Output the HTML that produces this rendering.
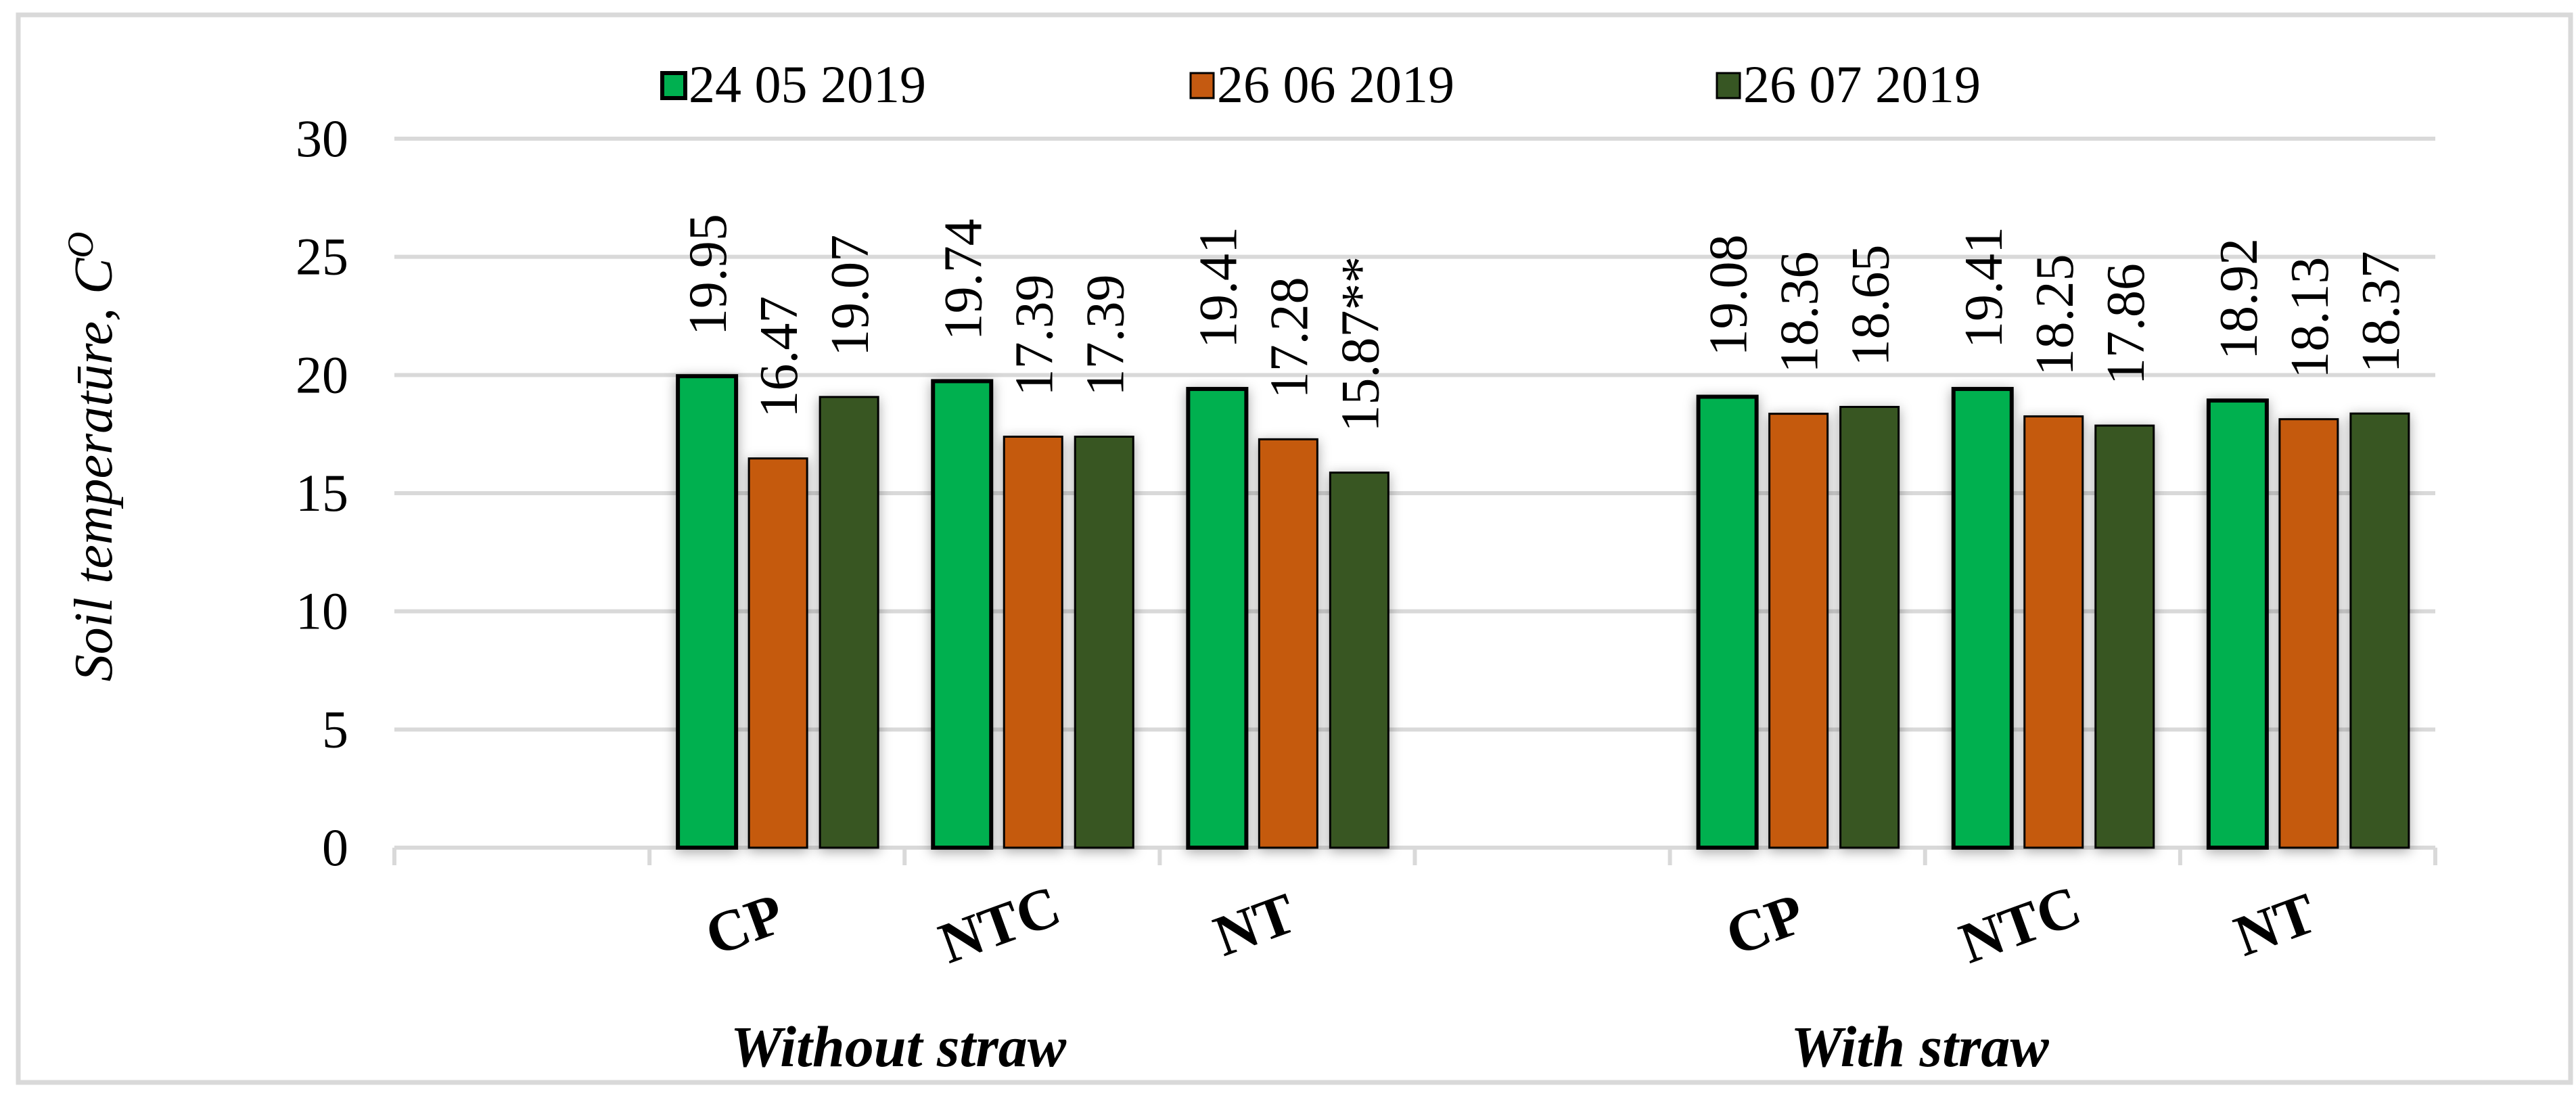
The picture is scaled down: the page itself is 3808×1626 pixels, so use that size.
<!DOCTYPE html>
<html><head><meta charset="utf-8"><style>
html,body{margin:0;padding:0;background:#fff;}
svg, svg text{font-family:"Liberation Serif","Times New Roman","DejaVu Serif","Noto Serif CJK SC",serif;}
</style></head><body>
<svg id="chart" width="3808" height="1621" viewBox="0 0 3808 1621" xmlns="http://www.w3.org/2000/svg">
<defs>
<filter id="sh" x="-30%" y="-10%" width="160%" height="120%"><feDropShadow dx="0" dy="4" stdDeviation="9" flood-color="#000" flood-opacity="0.35"/></filter>
</defs>
<rect x="27" y="22" width="3773" height="1578" fill="#fff" stroke="#d9d9d9" stroke-width="7"/>
<g id="grid"></g>
<g id="bars"></g>
<g id="labels"></g>
<text transform="translate(165,675) rotate(-90)" text-anchor="middle" font-size="80" font-style="italic">Soil temperatūre, C<tspan dy="-28" font-size="54">O</tspan></text>
<g id="legend"></g>
<text x="1328" y="1576" text-anchor="middle" font-size="86" font-weight="bold" font-style="italic">Without straw</text>
<text x="2838" y="1576" text-anchor="middle" font-size="86" font-weight="bold" font-style="italic">With straw</text>
</svg>
<script>
const categories = ["", "CP", "NTC", "NT", "", "CP", "NTC", "NT"];
const seriesNames = ["24 05 2019", "26 06 2019", "26 07 2019"];
const s1 = [null, 19.95, 19.74, 19.41, null, 19.08, 19.41, 18.92];
const s2 = [null, 16.47, 17.39, 17.28, null, 18.36, 18.25, 18.13];
const s3 = [null, 19.07, 17.39, 15.87, null, 18.65, 17.86, 18.37];
const s3Labels = [null, "19.07", "17.39", "15.87**", null, "18.65", "17.86", "18.37"];
const yTicks = [0, 5, 10, 15, 20, 25, 30];

const NS = "http://www.w3.org/2000/svg";
const colors = ["#00b050", "#c55a11", "#375623"];
const strokeW = [6, 3, 3];
const plotL = 583, plotR = 3600, y0 = 1253, yMax = 30, yTop = 205;
const slotW = (plotR - plotL) / categories.length;
function y(v){ return y0 - v / yMax * (y0 - yTop); }
function mk(tag, attrs, parent){ const e = document.createElementNS(NS, tag); for (const k in attrs) e.setAttribute(k, attrs[k]); parent.appendChild(e); return e; }
const grid = document.getElementById('grid'), bars = document.getElementById('bars'), labels = document.getElementById('labels'), legend = document.getElementById('legend');

yTicks.forEach(t => {
  const l = mk('line', {x1: plotL, x2: plotR, y1: y(t), y2: y(t), stroke: '#d9d9d9', 'stroke-width': 6}, grid);
  
  
  const tx = mk('text', {x: 515, y: y(t) + 26, 'text-anchor': 'end', 'font-size': 78}, grid);
  tx.textContent = t;
  
  
});
for (let i = 0; i <= categories.length; i++) {
  const x = plotL + i * slotW;
  const tk = mk('line', {x1: x, x2: x, y1: y0, y2: y0 + 26, stroke: '#d9d9d9', 'stroke-width': 6}, grid);
  
  
}
const series = [s1, s2, s3];
categories.forEach((c, i) => {
  const sx = plotL + i * slotW;
  if (c) {
    const lab = mk('text', {transform: `translate(${sx + slotW/2 - 45},${1375}) rotate(-20)`, 'text-anchor': 'middle', 'font-size': 86, 'font-weight': 'bold', 'dominant-baseline': 'middle'}, labels);
    lab.textContent = c;
    
    
  }
  series.forEach((s, k) => {
    const v = s[i];
    if (v == null) return;
    const bx = sx + 42 + k * 105, bw = 86;
    const r = mk('rect', {x: bx, y: y(v), width: bw, height: y0 - y(v), fill: colors[k], stroke: '#000', 'stroke-width': strokeW[k], filter: 'url(#sh)'}, bars);
    
    
    const txt = (k === 2) ? s3Labels[i] : v.toFixed(2);
    const t = mk('text', {transform: `translate(${bx + bw/2},${y(v) - 60}) rotate(-90)`, 'text-anchor': 'start', dy: '0.35em', 'font-size': 80}, labels);
    t.textContent = txt;
    
    
  });
});
const axis = mk('line', {x1: plotL, x2: plotR, y1: y0, y2: y0, stroke: '#d9d9d9', 'stroke-width': 6}, grid);



const legX = [976, 1757, 2535];
seriesNames.forEach((n, k) => {
  const sq = mk('rect', {x: legX[k] + 3, y: 108, width: 34, height: 37, fill: colors[k], stroke: '#000', 'stroke-width': strokeW[k]}, legend);
  
  
  const t = mk('text', {x: legX[k] + 42, y: 151, 'font-size': 78}, legend);
  t.textContent = n;
  
  
});
</script>
</body></html>
